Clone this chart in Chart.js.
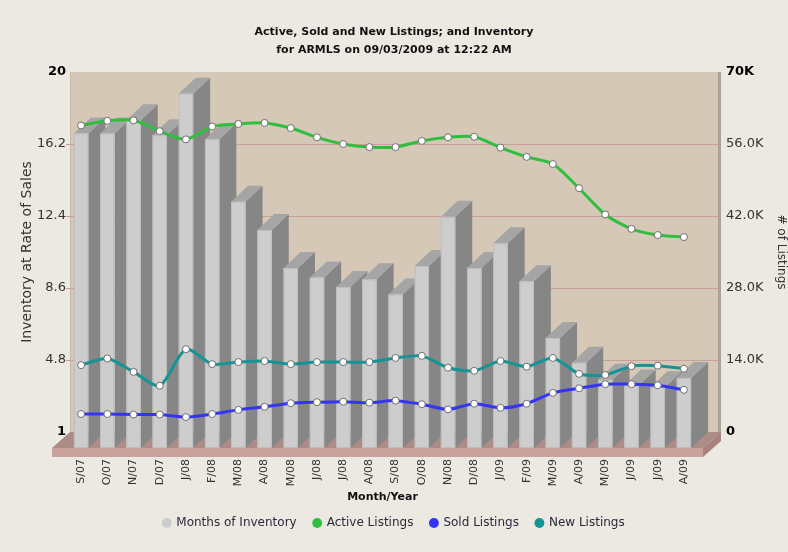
<!DOCTYPE html>
<html><head><meta charset="utf-8">
<script src="https://cdn.jsdelivr.net/npm/chart.js@4.4.1/dist/chart.umd.min.js"></script>
<style>html,body{margin:0;padding:0;background:#ece9e2;}canvas{display:block;}</style>
</head><body>
<canvas id="c" width="788" height="552"></canvas>
<script>
const categories = ['S/07','O/07','N/07','D/07','J/08','F/08','M/08','A/08','M/08','J/08','J/08','A/08','S/08','O/08','N/08','D/08','J/09','F/09','M/09','A/09','M/09','J/09','J/09','A/09'];
const monthsOfInventory = [17.6,17.6,18.3,17.5,19.7,17.3,14.0,12.5,10.5,10.0,9.5,9.9,9.1,10.6,13.2,10.5,11.8,9.8,6.8,5.5,4.6,4.3,4.2,4.7];
const activeListings = [59600,60500,60600,58500,56900,59400,59900,60100,59100,57300,56000,55400,55400,56600,57300,57400,55300,53500,52100,47400,42300,39500,38300,37900];
const soldListings = [3500,3500,3400,3400,2900,3500,4300,4900,5600,5800,5900,5700,6100,5400,4400,5500,4700,5500,7600,8500,9300,9300,9100,8200];
const newListings = [13000,14300,11700,9000,16100,13200,13600,13800,13200,13600,13600,13600,14400,14800,12500,11900,13800,12700,14400,11300,11100,12800,12900,12300];
const inventoryTicks = [1,4.8,8.6,12.4,16.2,20];
const inventoryTickLabels = ['1','4.8','8.6','12.4','16.2','20'];
const listingTicks = [0,14000,28000,42000,56000,70000];
const listingTickLabels = ['0','14.0K','28.0K','42.0K','56.0K','70K'];
const seriesNames = ['Months of Inventory','Active Listings','Sold Listings','New Listings'];
const seriesColors = ['#cccccc','#2fbf3f','#3434f6','#149494'];

const FONT = "'DejaVu Sans', Verdana, sans-serif";
const DEPTH = 16; // vertical depth shift

const scene3d = {
  id: 'scene3d',
  beforeDatasetsDraw(chart) {
    const {ctx, chartArea: {left, right, top, bottom}, scales: {y2}} = chart;
    const wallL = left + 2, wallR = right + 24;
    ctx.save();
    // back wall
    ctx.fillStyle = '#d5c8b6';
    ctx.fillRect(wallL, top, wallR - wallL, bottom - top);
    ctx.fillStyle = '#c7b9a6';
    ctx.fillRect(wallL, top, 1, bottom - top);
    ctx.fillStyle = '#aba194';
    ctx.fillRect(wallR - 3, top, 3, bottom - top + 4);
    // grid lines
    ctx.strokeStyle = '#c99f9c';
    ctx.lineWidth = 1;
    listingTicks.forEach((v, i) => {
      if (i === 0 || i === listingTicks.length - 1) return;
      const y = Math.round(y2.getPixelForValue(v)) + 0.5;
      ctx.beginPath(); ctx.moveTo(left - 2, y); ctx.lineTo(wallR - 3, y); ctx.stroke();
    });
    // floor top
    const fL = left - 16, fR = right + 6, fy = bottom + DEPTH;
    ctx.fillStyle = '#ad8b87';
    ctx.beginPath();
    ctx.moveTo(fL, fy); ctx.lineTo(wallL, bottom); ctx.lineTo(wallR, bottom); ctx.lineTo(fR, fy); ctx.closePath(); ctx.fill();
    // floor front
    ctx.fillStyle = '#c9a29e';
    ctx.fillRect(fL, fy, fR - fL, 9);
    // floor right side
    ctx.fillStyle = '#a8837f';
    ctx.beginPath();
    ctx.moveTo(fR, fy); ctx.lineTo(wallR, bottom); ctx.lineTo(wallR, bottom + 9); ctx.lineTo(fR, fy + 9); ctx.closePath(); ctx.fill();
    // bars
    const meta = chart.getDatasetMeta(0);
    meta.data.forEach(el => {
      const {x, y, base, width} = el.getProps(['x','y','base','width'], true);
      const xl = x - width / 2, xr = x + width / 2;
      const yf = y + DEPTH, bf = base + DEPTH, dx = 17;
      ctx.fillStyle = '#868686';
      ctx.beginPath();
      ctx.moveTo(xr, yf); ctx.lineTo(xr + dx, y); ctx.lineTo(xr + dx, base); ctx.lineTo(xr, bf); ctx.closePath(); ctx.fill();
      ctx.fillStyle = '#a5a5a5';
      ctx.beginPath();
      ctx.moveTo(xl, yf); ctx.lineTo(xl + dx, y); ctx.lineTo(xr + dx, y); ctx.lineTo(xr, yf); ctx.closePath(); ctx.fill();
      ctx.fillStyle = '#cdcdcd';
      ctx.fillRect(xl, yf, width, bf - yf);
      ctx.strokeStyle = '#bdbdbd';
      ctx.strokeRect(xl + 0.5, yf + 0.5, width - 1, bf - yf - 1);
    });
    ctx.restore();
  }
};

const lineDs = (label, data, color) => ({
  type: 'line', label, data, yAxisID: 'y2',
  borderColor: color, borderWidth: 3, tension: 0.25,
  pointRadius: 3.5, pointBackgroundColor: '#ffffff', pointBorderColor: '#6e6e6e', pointBorderWidth: 1,
  fill: false, order: 0
});

new Chart(document.getElementById('c'), {
  type: 'bar',
  data: {
    labels: categories,
    datasets: [
      { type: 'bar', label: seriesNames[0], data: monthsOfInventory, yAxisID: 'y', base: 1,
        backgroundColor: 'rgba(0,0,0,0)', borderWidth: 0, barPercentage: 0.55, categoryPercentage: 1, order: 1 },
      lineDs(seriesNames[1], activeListings, seriesColors[1]),
      lineDs(seriesNames[2], soldListings, seriesColors[2]),
      lineDs(seriesNames[3], newListings, seriesColors[3])
    ]
  },
  options: {
    responsive: false, animation: false, devicePixelRatio: 1,
    layout: { padding: { left: 0, right: 0, top: 0, bottom: 13 } },
    plugins: {
      tooltip: { enabled: false },
      title: {
        display: true,
        text: ['Active, Sold and New Listings; and Inventory', 'for ARMLS on 09/03/2009 at 12:22 AM'],
        color: '#111', font: { family: FONT, size: 11, weight: 'bold', lineHeight: 18 / 11 },
        padding: { top: 23, bottom: 13 }
      },
      legend: {
        position: 'bottom',
        labels: {
          usePointStyle: true, boxWidth: 7, boxHeight: 7, padding: 17,
          color: '#2a2a3a', font: { family: FONT, size: 12 },
          generateLabels: () => seriesNames.map((t, i) => ({
            text: t, fillStyle: seriesColors[i], strokeStyle: seriesColors[i], lineWidth: 0,
            pointStyle: 'circle', hidden: false, datasetIndex: i, fontColor: '#2a2a3a'
          }))
        }
      }
    },
    scales: {
      x: {
        type: 'category',
        offset: true,
        grid: { display: false, drawTicks: false }, border: { display: false },
        ticks: { autoSkip: false, maxRotation: 90, minRotation: 90, padding: 27, color: '#333', font: { family: FONT, size: 11 } },
        title: { display: true, text: 'Month/Year', color: '#111', font: { family: FONT, size: 11, weight: 'bold' }, padding: { top: 0, bottom: -3.5 } },
        afterFit: s => { s.height = 68; }
      },
      y: {
        position: 'left', min: 1, max: 20,
        grid: { display: false, drawTicks: false }, border: { display: false },
        afterBuildTicks: s => { s.ticks = inventoryTicks.map(v => ({ value: v })); },
        ticks: {
          padding: 2,
          callback: (v, i) => inventoryTickLabels[i],
          color: ctx => (ctx.index === 0 || ctx.index === inventoryTicks.length - 1) ? '#000' : '#333',
          font: ctx => ({ family: FONT, size: 13, weight: (ctx.index === 0 || ctx.index === inventoryTicks.length - 1) ? 'bold' : 'normal' })
        },
        title: { display: true, text: 'Inventory at Rate of Sales', color: '#333', font: { family: FONT, size: 14 }, padding: { top: 19, bottom: 0 } },
        afterFit: s => { s.width = 68; }
      },
      y2: {
        position: 'right', min: 0, max: 70000,
        grid: { display: false, drawTicks: false }, border: { display: false },
        afterBuildTicks: s => { s.ticks = listingTicks.map(v => ({ value: v })); },
        ticks: {
          padding: 29,
          callback: (v, i) => listingTickLabels[i],
          color: ctx => (ctx.index === 0 || ctx.index === listingTicks.length - 1) ? '#000' : '#333',
          font: ctx => ({ family: FONT, size: 13, weight: (ctx.index === 0 || ctx.index === listingTicks.length - 1) ? 'bold' : 'normal' })
        },
        title: { display: true, text: '# of Listings', color: '#333', font: { family: FONT, size: 12 }, padding: { top: 0, bottom: 0 } },
        afterFit: s => { s.width = 91; }
      }
    }
  },
  plugins: [scene3d]
});
</script>
</body></html>
